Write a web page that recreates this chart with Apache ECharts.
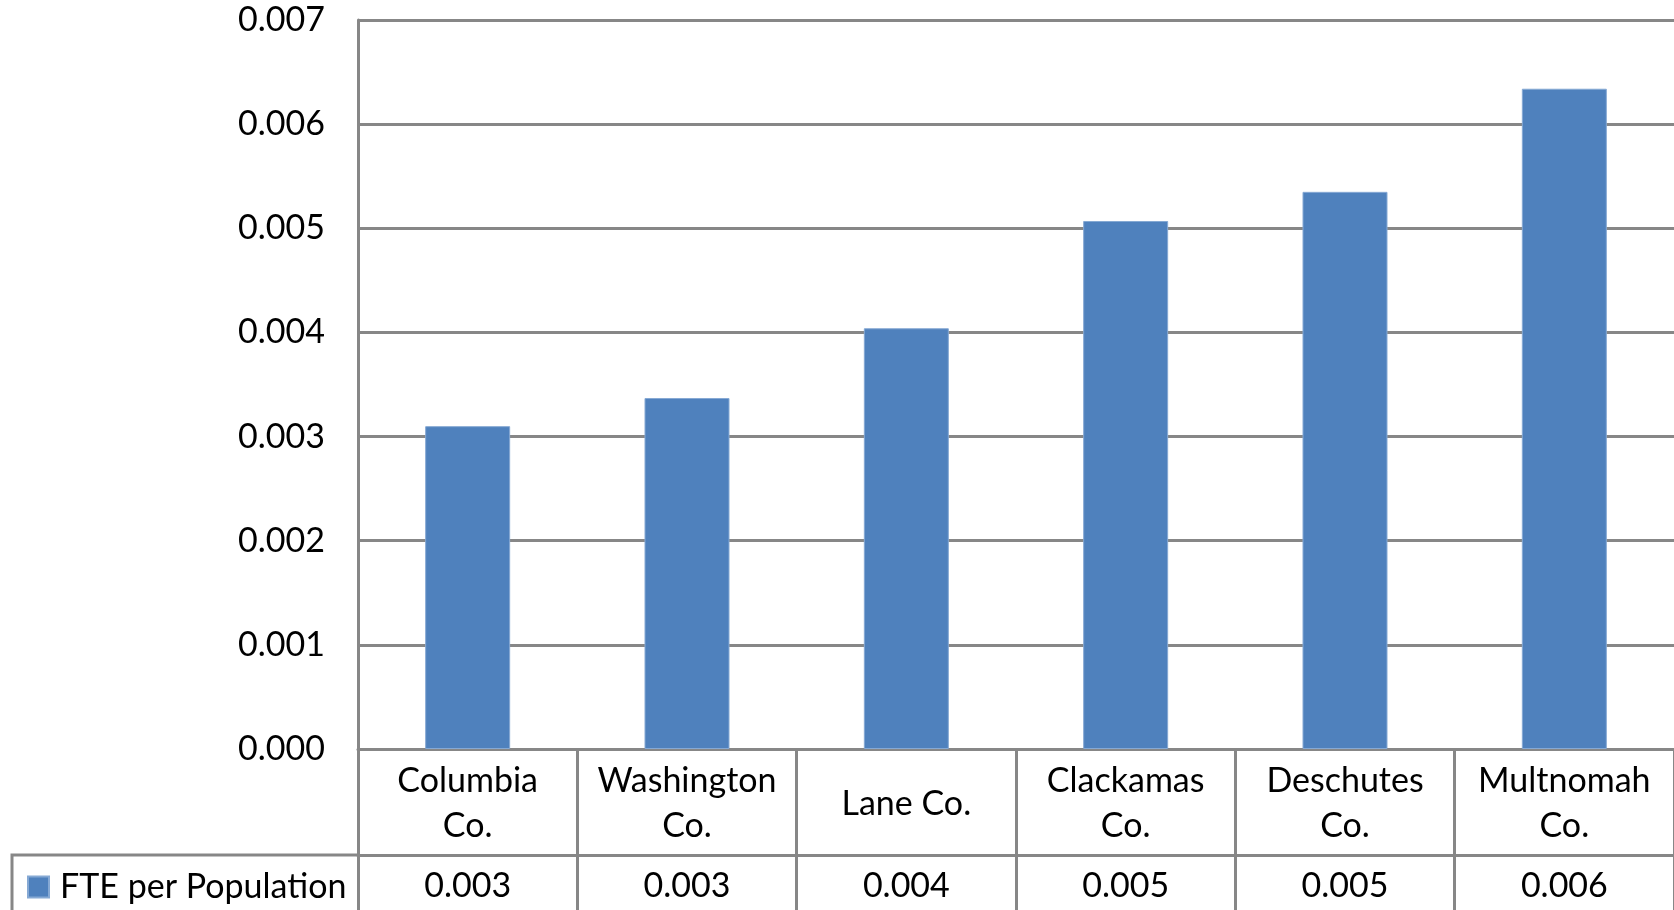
<!DOCTYPE html>
<html>
<head>
<meta charset="utf-8">
<script src="https://cdn.jsdelivr.net/npm/echarts@6/dist/echarts.min.js"></script>
<style>
  html, body { margin: 0; padding: 0; background: #fff; }
  #chart { width: 1674px; height: 910px; }
</style>
</head>
<body>
<div id="chart"></div>
<script>
// FTE per population by county
const counties = ['Columbia Co.', 'Washington Co.', 'Lane Co.', 'Clackamas Co.', 'Deschutes Co.', 'Multnomah Co.'];
const ftePerPopulation = [0.00310, 0.00337, 0.00404, 0.00507, 0.00535, 0.00634];
const seriesName = 'FTE per Population';
const yTicks = { min: 0, max: 0.007, interval: 0.001 };

const FONT = 'Lato';
const FS = 34;
const LINE = '#878787';
const BAR = '#4F81BD';

const chart = echarts.init(document.getElementById('chart'));

chart.setOption({
  animation: false,
  textStyle: { fontFamily: FONT, color: '#000' },
  grid: { left: 358, top: 20, width: 1319, height: 729 },
  legend: {
    data: [seriesName],
    left: 27,
    top: 866,
    padding: 0,
    icon: 'rect',
    itemWidth: 21,
    itemHeight: 21,
    itemGap: 0,
    textStyle: { fontFamily: FONT, fontSize: FS, color: '#000', lineHeight: 38, padding: [4, 0, 0, 6] }
  },
  xAxis: [
    {
      type: 'category',
      data: counties,
      position: 'bottom',
      axisLine: { show: true, lineStyle: { color: LINE, width: 3 } },
      axisTick: { show: true, interval: 0, length: 161, lineStyle: { color: LINE, width: 3 } },
      axisLabel: {
        interval: 0,
        margin: 55,
        verticalAlign: 'middle',
        fontFamily: FONT,
        fontSize: FS,
        lineHeight: 45,
        color: '#000',
        formatter: v => (v.length > 8 ? v.replace(' ', '\n') : v)
      },
      splitLine: { show: false }
    },
    {
      // data table row with the values
      type: 'category',
      data: counties,
      position: 'bottom',
      offset: 106,
      axisLine: { show: true, lineStyle: { color: LINE, width: 3 } },
      axisTick: { show: false },
      axisLabel: {
        interval: 0,
        margin: 31,
        verticalAlign: 'middle',
        fontFamily: FONT,
        fontSize: FS,
        color: '#000',
        formatter: (v, i) => ftePerPopulation[i].toFixed(3)
      },
      splitLine: { show: false }
    }
  ],
  yAxis: {
    type: 'value',
    min: yTicks.min,
    max: yTicks.max,
    interval: yTicks.interval,
    axisLine: { show: true, lineStyle: { color: LINE, width: 3 } },
    axisTick: { show: false },
    axisLabel: {
      margin: 33,
      fontFamily: FONT,
      fontSize: FS,
      color: '#000',
      padding: [8, 0, 0, 0],
      formatter: v => v.toFixed(3)
    },
    splitLine: { show: true, lineStyle: { color: LINE, width: 3 } }
  },
  series: [
    {
      name: seriesName,
      type: 'bar',
      xAxisIndex: 0,
      data: ftePerPopulation,
      barWidth: 85,
      itemStyle: { color: BAR, borderColor: '#86A9D4', borderWidth: 1 }
    }
  ],
  graphic: [
    // borders of the legend cell in the data table
    {
      type: 'polyline',
      shape: { points: [[12, 910], [12, 855], [358, 855]] },
      style: { stroke: LINE, lineWidth: 3, fill: null }
    }
  ]
});
</script>
</body>
</html>
